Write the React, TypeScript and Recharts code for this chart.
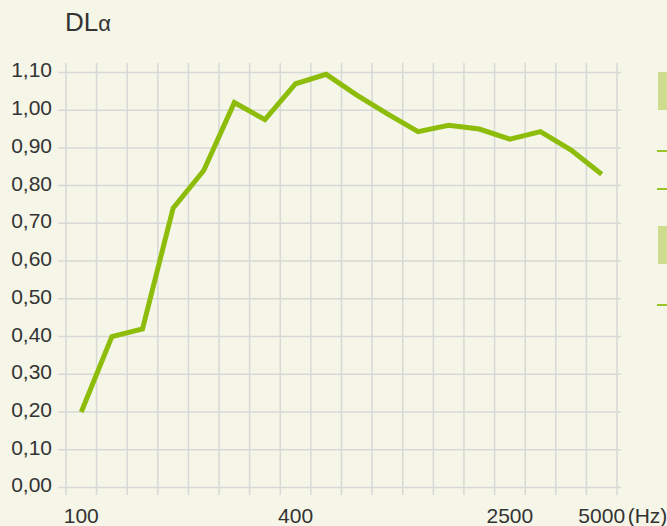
import React from "react";
import { CartesianGrid, Line, LineChart, XAxis, YAxis } from "recharts";

// measurement bands, left to right, and the labels printed under them
const freqs = [
  "100", "125", "160", "200", "250", "315", "400", "500", "630",
  "800", "1000", "1250", "1600", "2000", "2500", "3150", "4000", "5000",
];
const xLabels = [
  "100", "", "", "", "", "", "", "400", "", "",
  "", "", "", "", "2500", "", "", "5000",
];
const dlAlpha = [
  0.2, 0.4, 0.42, 0.74, 0.84, 1.02, 0.975, 1.07, 1.095,
  1.04, 0.99, 0.943, 0.96, 0.95, 0.923, 0.943, 0.894, 0.83,
];
const yTicks = [0, 0.1, 0.2, 0.3, 0.4, 0.5, 0.6, 0.7, 0.8, 0.9, 1.0, 1.1];

const data = freqs.map((f, i) => ({ pos: i + 0.5, freq: f, dl: dlAlpha[i] }));
const gridTicks = freqs.map((_, i) => i).concat(freqs.length);
const labelTicks = xLabels.map((l, i) => (l ? i + 0.5 : null)).filter((v) => v !== null);

const FONT = "'Liberation Sans', Arial, Helvetica, sans-serif";
const TEXT = "#333";
const BG = "#f5f6e8";
const GREEN = "#8dbd0a";

const YTick = ({ x, y, payload }) => (
  <text x={x} y={y + 5} textAnchor="end" fontFamily={FONT} fontSize={21} fill={TEXT}>
    {payload.value.toFixed(2).replace(".", ",")}
  </text>
);

const XTick = ({ x, y, payload }) => {
  const i = Math.round(payload.value - 0.5);
  const last = i === xLabels.length - 1;
  return (
    <g>
      <text x={x} y={y + 20} textAnchor="middle" fontFamily={FONT} fontSize={21} fill={TEXT}>
        {xLabels[i]}
      </text>
      {last && (
        <text x={x + 26} y={y + 20} textAnchor="start" fontFamily={FONT} fontSize={21} fill={TEXT}>
          (Hz)
        </text>
      )}
    </g>
  );
};

const legendBox = (top) => ({
  position: "absolute" as const, left: 658, top, width: 9, height: 38, background: "#cddc8e",
});
const legendDash = (top) => ({
  position: "absolute" as const, left: 657, top, width: 10, height: 2, background: "#9bc32a",
});

export default function App() {
  return (
    <div style={{ position: "fixed", left: 0, top: 0, width: 667, height: 526, background: BG, overflow: "hidden" }}>
      <div style={{ position: "absolute", left: 65, top: 7, fontFamily: FONT, fontSize: 26, lineHeight: "30px", color: TEXT }}>
        DL<span style={{ fontSize: 22 }}>α</span>
      </div>
      <div style={legendBox(72)} />
      <div style={legendDash(150)} />
      <div style={legendDash(188)} />
      <div style={legendBox(226)} />
      <div style={legendDash(304)} />
      <LineChart width={667} height={526} data={data} margin={{ top: 63, right: 46, bottom: 0, left: 0 }}>
        <CartesianGrid xAxisId="grid" syncWithTicks stroke="#d8d8d6" strokeWidth={1.5} />
        <XAxis
          xAxisId="grid"
          type="number"
          dataKey="pos"
          domain={[-0.26, 18.13]}
          allowDataOverflow
          ticks={gridTicks}
          interval={0}
          height={0}
          tick={() => <g />}
          axisLine={false}
          tickLine={false}
        />
        <XAxis
          xAxisId="labels"
          type="number"
          dataKey="pos"
          domain={[-0.26, 18.13]}
          allowDataOverflow
          ticks={labelTicks}
          interval={0}
          height={31}
          tick={XTick}
          axisLine={false}
          tickLine={false}
        />
        <YAxis
          type="number"
          domain={[-0.02, 1.125]}
          allowDataOverflow
          ticks={yTicks}
          interval={0}
          width={58}
          tickSize={6}
          tickMargin={0}
          tick={YTick}
          axisLine={false}
          tickLine={false}
        />
        <Line
          xAxisId="grid"
          type="linear"
          dataKey="dl"
          stroke={GREEN}
          strokeWidth={5}
          dot={false}
          activeDot={false}
          isAnimationActive={false}
        />
      </LineChart>
    </div>
  );
}
